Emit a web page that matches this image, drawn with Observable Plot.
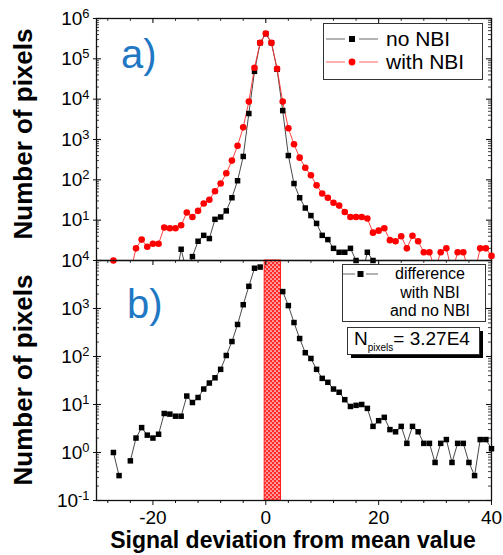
<!DOCTYPE html>
<html><head><meta charset="utf-8">
<script src="https://cdn.jsdelivr.net/npm/d3@7"></script>
<script src="https://cdn.jsdelivr.net/npm/@observablehq/plot@0.6"></script>
<style>
body{margin:0;background:#fff;}
#wrap{position:relative;width:503px;height:555px;overflow:hidden;background:#fff;}
#wrap > svg{position:absolute;left:0;}
</style></head><body><div id="wrap"></div>
<script>
// ---- data ----
const noNBI_x = [-16,-15,-14,-13,-12,-11,-10,-9,-8,-7,-6,-5,-4,-3,-2,-1,0,1,2,3,4,5,6,7,8,9,10,11,12,13,14,15,16,17,18,19,20];
const noNBI_y = [0.3,1.9,0.5,1.25,3,4.2,3.5,10.5,12,17,36,95,380,4400,49000,250000,420000,250000,55000,5200,400,81,36,20,13,8.3,4.2,3.3,2,1.6,1.6,2,1.0,0.4,1.6,1.0,0.3];
const withNBI_x = [-27,-26,-25,-24,-23,-22,-21,-20,-19,-18,-17,-16,-15,-14,-13,-12,-11,-10,-9,-8,-7,-6,-5,-4,-3,-2,-1,0,1,2,3,4,5,6,7,8,9,10,11,12,13,14,15,16,17,18,19,20,21,22,23,24,25,26,27,28,29,30,31,32,33,34,35,36,37,38,39,40];
const withNBI_y = [1.0,0.3,0.3,0.5,2,3.3,2.2,2.6,2.6,6.6,6.3,6.3,7.5,15.5,12,17,26,32,52,81,145,300,700,2000,8700,60000,250000,425000,250000,57000,8700,1900,760,355,200,130,73,46,36,27,23,16,12,12,12,11,4.9,5.5,6.3,3.2,3,4,2,4.1,3,1.6,1.6,0.6,1.6,2,0.5,1.6,1.6,0.5,0.5,2,2,1.3];
const diff_x = [-27,-26,-25,-24,-23,-22,-21,-20,-19,-18,-17,-16,-15,-14,-13,-12,-11,-10,-9,-8,-7,-6,-5,-4,-3,-2,-1,0,1,2,3,4,5,6,7,8,9,10,11,12,13,14,15,16,17,18,19,20,21,22,23,24,25,26,27,28,29,30,31,32,33,34,35,36,37,38,39,40];
const diff_y = [1.0,0.33,null,0.67,2,3.3,2.3,2,2.4,6.5,6.3,5.7,5.7,15,11,14,21,28,36,54,105,205,465,1200,2900,6900,7300,null,null,null,2250,1150,510,237,120,91,54,35,29,21,18,12.6,9.1,9.6,10,8.3,3.5,4.6,5.4,3.0,2.7,3.5,1.55,3.5,2.7,1.55,1.55,0.62,1.55,1.86,0.62,1.55,1.55,0.62,0.33,1.86,1.86,1.2];
const band_x1 = [-0.2], band_x2 = [2.7];

// ticks
const xMajor = [-20,0,20,40];
const xMinor = [-28,-24,-16,-12,-8,-4,4,8,12,16,24,28,32,36];
const topMajorY = [1,10,100,1e3,1e4,1e5,1e6];
const topLabelY = [10,100,1e3,1e4,1e5,1e6];
const botMajorY = [0.1,1,10,100,1e3,1e4];
const minorMult = [2,3,4,5,6,7,8,9];

const noNBI = noNBI_x.map((x,i)=>({x, y:noNBI_y[i]}));
const withNBI = withNBI_x.map((x,i)=>({x, y:withNBI_y[i]}));
const diff = diff_x.map((x,i)=>({x, y:diff_y[i]}));
const band = band_x1.map((x1,i)=>({x1, x2:band_x2[i]}));
const minorsOf = majors => majors.slice(0,-1).flatMap(m => minorMult.map(k => k*m));

const W = 503, ML = 96, MR = 12, FW = W-ML-MR;
const FH1 = 242, FH2 = 240;
const AX = "#111";
const fmtExp = d => "10^" + Math.round(Math.log10(d));

function frameTicks(majY, minY, FH){
  return [
    Plot.tickY(majY, {y:d=>d, insetRight:FW-5, stroke:AX, strokeWidth:1.1}),
    Plot.tickY(minY, {y:d=>d, insetRight:FW-3, stroke:AX, strokeWidth:0.8}),
    Plot.tickY(majY, {y:d=>d, insetLeft:FW-5, stroke:AX, strokeWidth:1.1}),
    Plot.tickY(minY, {y:d=>d, insetLeft:FW-3, stroke:AX, strokeWidth:0.8}),
    Plot.tickX(xMajor, {x:d=>d, insetBottom:FH-5, stroke:AX, strokeWidth:1.1}),
    Plot.tickX(xMinor, {x:d=>d, insetBottom:FH-3, stroke:AX, strokeWidth:0.8})
  ];
}

const topPlot = Plot.plot({
  width: W, height: 262, marginLeft: ML, marginRight: MR, marginTop: 18, marginBottom: 2,
  style: {background:"none", fontFamily:"'Liberation Sans', Arial, sans-serif", overflow:"visible"},
  x: {domain:[-30,40], axis:null},
  y: {type:"log", domain:[1,1e6]},
  marks: [
    Plot.frame({stroke:AX, strokeWidth:1.3}),
    Plot.axisY(topLabelY, {anchor:"left", tickSize:3, tickPadding:4, fontSize:19, tickFormat:fmtExp, label:null, stroke:AX}),
    ...frameTicks(topMajorY, minorsOf(topMajorY), FH1),
    Plot.line(noNBI, {x:"x", y:"y", stroke:"#333", strokeWidth:0.9, clip:true}),
    Plot.line(withNBI, {x:"x", y:"y", stroke:"#ff2a2a", strokeWidth:0.9, clip:true}),
    Plot.dot(noNBI.filter(d=>d.y>=1), {x:"x", y:"y", symbol:"square", r:3.1, fill:"#000"}),
    Plot.dot(withNBI.filter(d=>d.y>=1), {x:"x", y:"y", r:3.3, fill:"#ff0000"})
  ]
});

const botPlot = Plot.plot({
  width: W, height: 315, marginLeft: ML, marginRight: MR, marginTop: 20, marginBottom: 55,
  style: {background:"none", fontFamily:"'Liberation Sans', Arial, sans-serif", overflow:"visible"},
  x: {domain:[-30,40]},
  y: {type:"log", domain:[0.1,1e4]},
  marks: [
    Plot.rect(band, {x1:"x1", x2:"x2", fill:"url(#xhatch)", stroke:"#ff1a1a", strokeWidth:1}),
    Plot.frame({stroke:AX, strokeWidth:1.3}),
    Plot.axisY(botMajorY, {anchor:"left", tickSize:3, tickPadding:4, fontSize:19, tickFormat:fmtExp, label:null, stroke:AX}),
    Plot.axisX(xMajor, {anchor:"bottom", tickSize:5, tickPadding:5, fontSize:19, tickFormat:d=>String(d), label:null, stroke:AX}),
    Plot.axisX(xMinor, {anchor:"bottom", tickSize:3, tickFormat:()=>"", label:null, stroke:AX}),
    ...frameTicks(botMajorY, minorsOf(botMajorY), FH2),
    Plot.line(diff, {x:"x", y:"y", stroke:"#333", strokeWidth:0.9, clip:true}),
    Plot.dot(diff.filter(d=>d.y!=null && d.y>=0.1), {x:"x", y:"y", symbol:"square", r:3.1, fill:"#000"})
  ]
});

// hatch pattern
const defs = d3.select(botPlot).insert("defs", ":first-child");
const pat = defs.append("pattern").attr("id","xhatch").attr("patternUnits","userSpaceOnUse").attr("width",4).attr("height",4);
pat.append("rect").attr("width",4).attr("height",4).attr("fill","#ff2a2a");
pat.append("circle").attr("cx",1).attr("cy",1).attr("r",0.85).attr("fill","#fff");
pat.append("circle").attr("cx",3).attr("cy",3).attr("r",0.85).attr("fill","#fff");

// superscript exponents
function sup(svg){
  d3.select(svg).selectAll('g[aria-label="y-axis tick label"] text').each(function(){
    const m = this.textContent.match(/^10\^(.+)$/); if(!m) return;
    const s = d3.select(this); s.text(null);
    s.append("tspan").text("10");
    s.append("tspan").attr("dy","-0.5em").attr("font-size","0.68em").text(m[1]);
  });
}
sup(topPlot); sup(botPlot);

const wrap = document.getElementById("wrap");
topPlot.style.top = "0px";
botPlot.style.top = "240px";
wrap.appendChild(topPlot);
wrap.appendChild(botPlot);

// annotations overlay
const ov = d3.select(wrap).append("svg").attr("width",W).attr("height",555)
  .style("top","0px").style("pointer-events","none")
  .attr("font-family","'Liberation Sans', Arial, sans-serif");

ov.append("text").attr("transform","translate(32,134) rotate(-90)").attr("text-anchor","middle")
  .attr("font-size",26).attr("font-weight","bold").text("Number of pixels");
ov.append("text").attr("transform","translate(32,380) rotate(-90)").attr("text-anchor","middle")
  .attr("font-size",26).attr("font-weight","bold").text("Number of pixels");
ov.append("text").attr("x",293).attr("y",548).attr("text-anchor","middle")
  .attr("font-size",23).attr("font-weight","bold").text("Signal deviation from mean value");
ov.append("text").attr("x",121).attr("y",68).attr("font-size",40).attr("fill","#1f78c4").text("a)");
ov.append("text").attr("x",127).attr("y",318).attr("font-size",40).attr("fill","#1f78c4").text("b)");

// top legend
ov.append("rect").attr("x",323.5).attr("y",23.5).attr("width",159).attr("height",56).attr("fill","#fff").attr("stroke","#333");
const leg = [{y:39, c:"#555", m:"sq", t:"no NBI"},{y:62, c:"#ff5050", m:"ci", t:"with NBI"}];
leg.forEach(l=>{
  ov.append("line").attr("x1",326).attr("x2",345).attr("y1",l.y).attr("y2",l.y).attr("stroke",l.c).attr("stroke-width",0.9);
  ov.append("line").attr("x1",359).attr("x2",378).attr("y1",l.y).attr("y2",l.y).attr("stroke",l.c).attr("stroke-width",0.9);
  if(l.m==="sq") ov.append("rect").attr("x",349).attr("y",l.y-3).attr("width",6).attr("height",6).attr("fill","#000");
  else ov.append("circle").attr("cx",352).attr("cy",l.y).attr("r",3.4).attr("fill","#ff0000");
  ov.append("text").attr("x",386).attr("y",l.y+7).attr("font-size",21).text(l.t);
});

// bottom legend
ov.append("rect").attr("x",342.5).attr("y",264.5).attr("width",143).attr("height",57).attr("fill","#fff").attr("stroke","#333");
ov.append("line").attr("x1",343).attr("x2",355).attr("y1",274).attr("y2",274).attr("stroke","#555").attr("stroke-width",0.9);
ov.append("line").attr("x1",366).attr("x2",378).attr("y1",274).attr("y2",274).attr("stroke","#555").attr("stroke-width",0.9);
ov.append("rect").attr("x",357.5).attr("y",271).attr("width",6).attr("height",6).attr("fill","#000");
[["difference",279],["with NBI",297.5],["and no NBI",316]].forEach(([t,y])=>{
  ov.append("text").attr("x",430).attr("y",y).attr("text-anchor","middle").attr("font-size",16).text(t);
});

// N pixels box
ov.append("rect").attr("x",351).attr("y",331).attr("width",132).attr("height",27).attr("fill","#000");
ov.append("rect").attr("x",347.5).attr("y",327.5).attr("width",132).attr("height",27).attr("fill","#fff").attr("stroke","#333");
const nt = ov.append("text").attr("x",354).attr("y",345).attr("font-size",19);
nt.append("tspan").text("N");
nt.append("tspan").attr("font-size",10).attr("dy",6).text("pixels");
nt.append("tspan").attr("dy",-6).text("= 3.27E4");
</script></body></html>
